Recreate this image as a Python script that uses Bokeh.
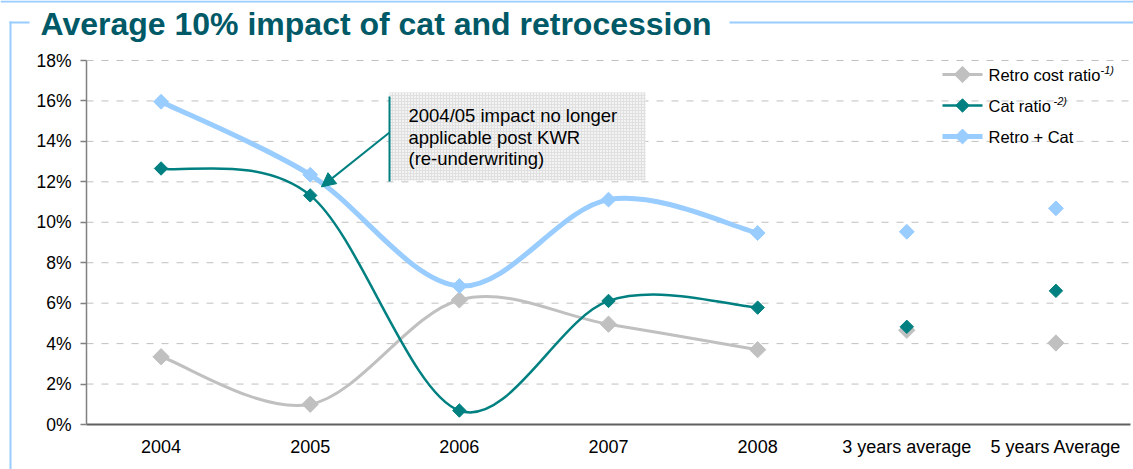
from bokeh.plotting import figure
from bokeh.models import (Range1d, FixedTicker, PrintfTickFormatter, LinearAxis, Arrow,
                          NormalHead, ColumnDataSource)
from bokeh.core.properties import value
from bokeh.embed import file_html
from bokeh.resources import INLINE

# ---- data (percent) ----
categories = ["2004", "2005", "2006", "2007", "2008", "3 years average", "5 years Average"]
years = ["2004", "2005", "2006", "2007", "2008"]
averages = ["3 years average", "5 years Average"]

retro_cost = [3.35, 1.00, 6.16, 4.96, 3.70]
cat_ratio = [12.66, 11.33, 0.69, 6.11, 5.78]
retro_cat = [15.96, 12.35, 6.85, 11.12, 9.47]

retro_cost_avg = [4.66, 4.03]
cat_ratio_avg = [4.83, 6.61]
retro_cat_avg = [9.53, 10.69]

y_ticks = [0, 2, 4, 6, 8, 10, 12, 14, 16, 18]

series_names = ["Retro cost ratio", "Cat ratio", "Retro + Cat"]
series_notes = ["-1)", "-2)"]

title_text = "Average 10% impact of cat and retrocession"
callout_lines = ["2004/05 impact no longer", "applicable post KWR", "(re-underwriting)"]

# ---- styles ----
GREY = "#c0c0c0"
TEAL = "#008080"
LIGHT_BLUE = "#99ccff"
TITLE_COLOR = "#005966"
FONT = "Liberation Sans"
DIAMOND = 0.785398  # square marker turned 45 degrees

W, H = 1133, 469
# plot area inside the page, in pixels
AREA_L, AREA_R, AREA_T, AREA_B = 86, 1130, 60, 424

x_of = {c: i for i, c in enumerate(categories)}
year_x = [x_of[y] for y in years]
avg_x = [x_of[a] for a in averages]

X_LO, X_HI = -0.5, len(categories) - 0.5
Y_LO, Y_HI = y_ticks[0], y_ticks[-1]
x_per_px = (X_HI - X_LO) / (AREA_R - AREA_L)
y_per_px = (Y_HI - Y_LO) / (AREA_B - AREA_T)


def px_x(px):
    return X_LO + (px - AREA_L) * x_per_px


def px_y(py):
    return Y_LO + (AREA_B - py) * y_per_px


def smooth_segments(xs, ys):
    """Catmull-Rom style cubic Bezier segments through the points."""
    n = len(xs)
    seg = dict(x0=[], y0=[], x1=[], y1=[], cx0=[], cy0=[], cx1=[], cy1=[])
    for i in range(n - 1):
        a = max(i - 1, 0)
        d = min(i + 2, n - 1)
        seg["x0"].append(xs[i]); seg["y0"].append(ys[i])
        seg["x1"].append(xs[i + 1]); seg["y1"].append(ys[i + 1])
        seg["cx0"].append(xs[i] + (xs[i + 1] - xs[a]) / 6.0)
        seg["cy0"].append(ys[i] + (ys[i + 1] - ys[a]) / 6.0)
        seg["cx1"].append(xs[i + 1] - (xs[d] - xs[i]) / 6.0)
        seg["cy1"].append(ys[i + 1] - (ys[d] - ys[i]) / 6.0)
    return ColumnDataSource(seg)


# the frame spans the whole page; axes sit at fixed data locations
p = figure(width=W, height=H, output_backend="svg", toolbar_location=None,
           x_range=Range1d(px_x(0), px_x(W)), y_range=Range1d(px_y(H), px_y(0)),
           x_axis_location=None, y_axis_location=None, min_border=0)
p.outline_line_color = None
p.background_fill_color = "white"
p.border_fill_color = "white"
p.grid.visible = False

yaxis = LinearAxis(fixed_location=X_LO, bounds=(Y_LO, Y_HI),
                   ticker=FixedTicker(ticks=y_ticks),
                   formatter=PrintfTickFormatter(format="%d%%"))
yaxis.minor_tick_line_color = None
yaxis.major_tick_in = 0
yaxis.major_tick_out = 6
yaxis.major_tick_line_color = "#808080"
yaxis.major_tick_line_width = 1.5
yaxis.axis_line_color = "#808080"
yaxis.axis_line_width = 1.5
yaxis.major_label_text_font = FONT
yaxis.major_label_text_font_size = "17.5px"
yaxis.major_label_text_color = "black"
yaxis.major_label_standoff = 9
p.add_layout(yaxis, "left")

xaxis = LinearAxis(fixed_location=Y_LO, bounds=(X_LO, X_HI),
                   ticker=FixedTicker(ticks=list(range(len(categories)))))
xaxis.major_label_overrides = {i: c for i, c in enumerate(categories)}
xaxis.major_tick_line_color = None
xaxis.minor_tick_line_color = None
xaxis.axis_line_color = "#606060"
xaxis.axis_line_width = 2
xaxis.major_label_text_font = FONT
xaxis.major_label_text_font_size = "18px"
xaxis.major_label_text_color = "black"
xaxis.major_label_standoff = 6
p.add_layout(xaxis, "below")

# dashed horizontal grid across the plot area
grid_y = y_ticks[1:]
p.segment(x0=[X_LO] * len(grid_y), x1=[X_HI] * len(grid_y), y0=grid_y, y1=grid_y,
          line_color=GREY, line_width=1, line_dash="7 8")

# ---- call-out box ----
box_l, box_r, box_b, box_t = px_x(389), px_x(645), px_y(180), px_y(92)
p.quad(left=[box_l], right=[box_r], bottom=[box_b], top=[box_t],
       fill_color="#f3f3f3", line_color=None,
       hatch_pattern="+", hatch_color="#e0e0e0", hatch_scale=3, hatch_weight=1)
p.line([box_l, box_l], [px_y(181), px_y(96)], line_color=TEAL, line_width=2)
p.text(x=[px_x(408)] * 3, y=[px_y(115), px_y(137), px_y(158)], text=callout_lines,
       text_font=value(FONT), text_font_size="18.5px", text_color="black",
       text_baseline="middle")

# ---- series ----
styles = [
    dict(vals=retro_cost, avg=retro_cost_avg, color=GREY, lw=3, ms=11.5),
    dict(vals=cat_ratio, avg=cat_ratio_avg, color=TEAL, lw=2.5, ms=9.5),
    dict(vals=retro_cat, avg=retro_cat_avg, color=LIGHT_BLUE, lw=5, ms=10.5),
]
for s in styles:
    seg = smooth_segments(year_x, s["vals"])
    p.bezier(x0="x0", y0="y0", x1="x1", y1="y1", cx0="cx0", cy0="cy0",
             cx1="cx1", cy1="cy1", source=seg, line_color=s["color"],
             line_width=s["lw"])
    p.scatter(year_x, s["vals"], marker="square", angle=DIAMOND, size=s["ms"],
              fill_color=s["color"], line_color=s["color"])
    p.scatter(avg_x, s["avg"], marker="square", angle=DIAMOND, size=s["ms"],
              fill_color=s["color"], line_color=s["color"])

p.add_layout(Arrow(x_start=box_l, y_start=px_y(132),
                   x_end=x_of["2005"] + 0.075, y_end=cat_ratio[1] + 0.42,
                   line_color=TEAL, line_width=2,
                   end=NormalHead(size=14, fill_color=TEAL, line_color=TEAL)))

# ---- legend, top right ----
leg_y = [px_y(74), px_y(105), px_y(136)]
for s, yy in zip(styles, leg_y):
    p.line([px_x(942), px_x(982)], [yy, yy], line_color=s["color"], line_width=s["lw"])
    p.scatter([px_x(962)], [yy], marker="square", angle=DIAMOND, size=s["ms"],
              fill_color=s["color"], line_color=s["color"])
p.text(x=[px_x(988)] * 3, y=leg_y, text=series_names, text_font=value(FONT),
       text_font_size="16.5px", text_color="black", text_baseline="middle")
p.text(x=[px_x(1100), px_x(1053)], y=[px_y(69), px_y(100)], text=series_notes,
       text_font=value(FONT), text_font_size="11px", text_font_style="italic",
       text_color="black", text_baseline="middle")

# ---- page title and frame rules ----
p.text(x=[px_x(40)], y=[px_y(23)], text=[title_text], text_font=value(FONT),
       text_font_style="bold", text_font_size="32px", text_color=TITLE_COLOR,
       text_baseline="alphabetic")
rules_x0 = [px_x(0), px_x(9), px_x(729), px_x(10)]
rules_x1 = [px_x(W), px_x(29), px_x(W), px_x(10)]
rules_y0 = [px_y(1), px_y(22), px_y(22), px_y(21)]
rules_y1 = [px_y(1), px_y(22), px_y(22), px_y(H)]
p.segment(x0=rules_x0, x1=rules_x1, y0=rules_y0, y1=rules_y1,
          line_color=LIGHT_BLUE, line_width=2)

open("out.html", "w").write(file_html(p, INLINE))
